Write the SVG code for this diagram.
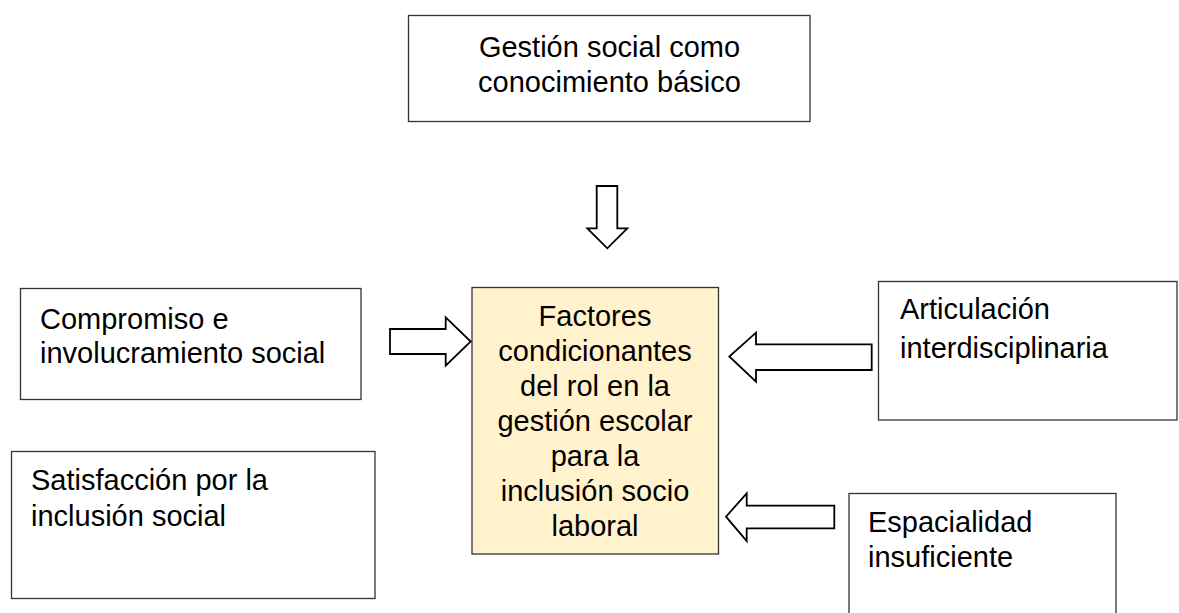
<svg xmlns="http://www.w3.org/2000/svg" width="1179" height="613" viewBox="0 0 1179 613">
<style>
.box{fill:#ffffff;stroke:#333333;stroke-width:1.3}
.center{fill:#FFF2CC;stroke:#333333;stroke-width:1.3}
.arrow{fill:#ffffff;stroke:#000000;stroke-width:1.8;stroke-linejoin:miter}
text{font-family:"Liberation Sans",Arial,sans-serif;font-size:29px;fill:#000000}
.mid{text-anchor:middle}
</style>
<rect width="1179" height="613" fill="#ffffff"/>
<g id="node-gestion">
<rect class="box" x="408.5" y="15.5" width="401.5" height="106"/>
<text class="mid" x="609.5" y="57">Gestión social como</text>
<text class="mid" x="609.5" y="92">conocimiento básico</text>
</g>
<g id="node-compromiso">
<rect class="box" x="20.5" y="288.5" width="340.5" height="111"/>
<text x="40" y="329">Compromiso e</text>
<text x="40" y="363">involucramiento social</text>
</g>
<g id="node-satisfaccion">
<rect class="box" x="11.5" y="451.5" width="363.5" height="147"/>
<text x="31" y="490">Satisfacción por la</text>
<text x="31" y="526">inclusión social</text>
</g>
<g id="node-factores">
<rect class="center" x="472" y="287.5" width="246.5" height="266.5"/>
<text class="mid" x="595" y="326">Factores</text>
<text class="mid" x="595" y="361">condicionantes</text>
<text class="mid" x="595" y="396">del rol en la</text>
<text class="mid" x="595" y="431">gestión escolar</text>
<text class="mid" x="595" y="466">para la</text>
<text class="mid" x="595" y="501">inclusión socio</text>
<text class="mid" x="595" y="536">laboral</text>
</g>
<g id="node-articulacion">
<rect class="box" x="878.5" y="281.5" width="298.5" height="138.5"/>
<text x="900" y="319">Articulación</text>
<text x="900" y="358">interdisciplinaria</text>
</g>
<g id="node-espacialidad">
<rect class="box" x="849" y="493.5" width="267" height="125"/>
<text x="868" y="531.5">Espacialidad</text>
<text x="868" y="566.5">insuficiente</text>
</g>
<g id="connectors">
<polygon class="arrow" points="596.7,186 617.3,186 617.3,228.3 627.3,228.3 607.3,248.3 587.3,228.3 596.7,228.3"/>
<polygon class="arrow" points="390,329 445.7,329 445.7,317.3 470.7,341.5 445.7,365.7 445.7,354 390,354"/>
<polygon class="arrow" points="871.7,344.3 756,344.3 756,332.7 729.3,356.5 756,381.7 756,370 871.7,370"/>
<polygon class="arrow" points="834.3,505.7 746.7,505.7 746.7,493.3 726,516.7 746.7,541 746.7,528.3 834.3,528.3"/>
</g>
</svg>
